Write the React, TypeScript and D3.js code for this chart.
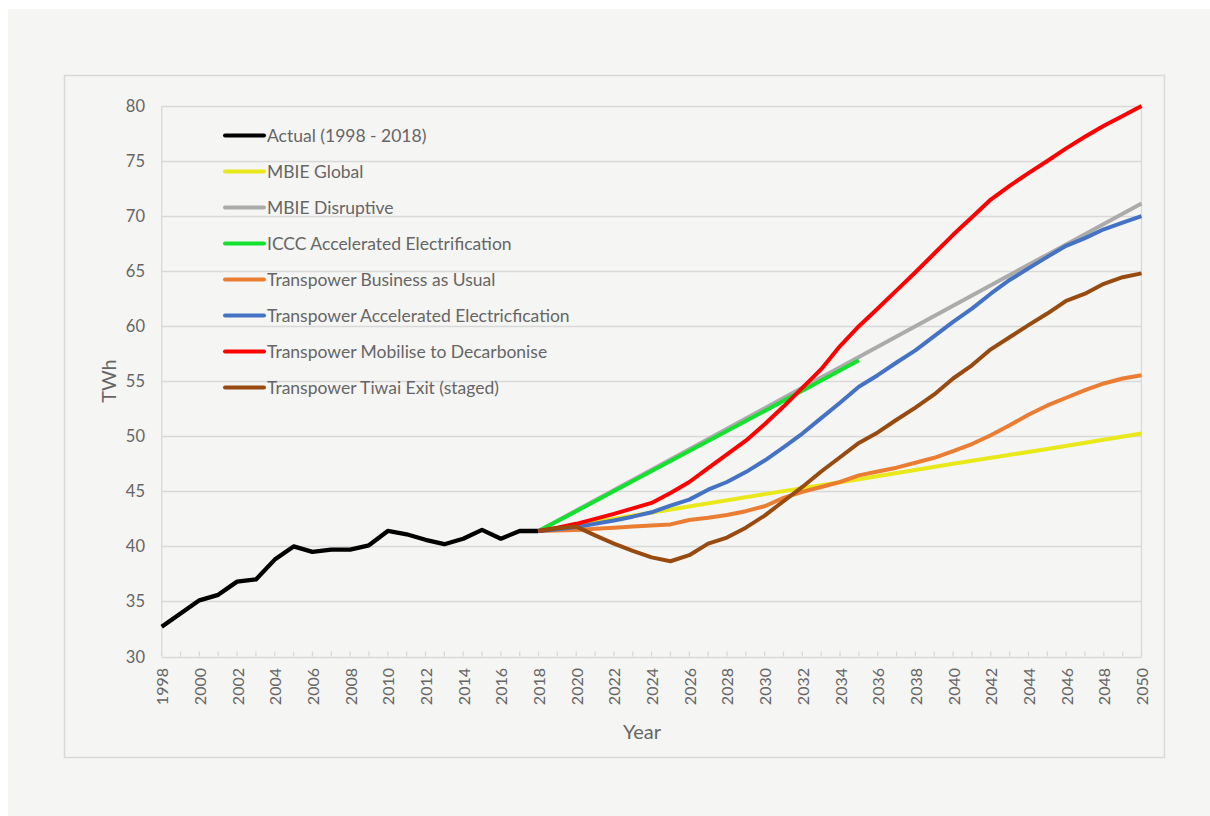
import React from "react";
import * as d3 from "d3";

const actualYears = [1998,1999,2000,2001,2002,2003,2004,2005,2006,2007,2008,2009,2010,2011,2012,2013,2014,2015,2016,2017,2018];
const actualValues = [32.7,33.9,35.1,35.6,36.8,37.0,38.8,40.0,39.5,39.7,39.7,40.1,41.4,41.1,40.6,40.2,40.7,41.5,40.7,41.4,41.4];

const projYears = [2018,2019,2020,2021,2022,2023,2024,2025,2026,2027,2028,2029,2030,2031,2032,2033,2034,2035,2036,2037,2038,2039,2040,2041,2042,2043,2044,2045,2046,2047,2048,2049,2050];

const mbieYears = [2018,2020,2025,2030,2035,2040,2045,2050];
const mbieGlobal = [41.4,41.95,43.35,44.75,46.1,47.5,48.85,50.25];
const mbieDisruptive = [41.4,43.25,47.9,52.55,57.2,61.85,66.5,71.15];

const icccYears = [2018,2020,2025,2030,2035];
const icccValues = [41.4,43.2,47.75,52.3,56.9];

const tpBAU = [41.4,41.45,41.5,41.6,41.7,41.8,41.9,42.0,42.4,42.6,42.85,43.2,43.65,44.4,44.95,45.4,45.85,46.45,46.8,47.15,47.6,48.05,48.65,49.3,50.1,51.0,51.95,52.8,53.5,54.2,54.8,55.25,55.55];
const tpAccel = [41.4,41.55,41.75,42.05,42.35,42.7,43.1,43.7,44.25,45.15,45.85,46.75,47.8,49.0,50.25,51.65,53.05,54.5,55.55,56.7,57.8,59.1,60.4,61.6,62.95,64.2,65.25,66.3,67.3,68.0,68.8,69.4,70.0];
const tpMobilise = [41.4,41.7,42.05,42.5,42.95,43.45,43.95,44.85,45.85,47.1,48.35,49.6,51.1,52.7,54.4,56.1,58.2,60.0,61.6,63.25,64.9,66.6,68.3,69.9,71.5,72.75,73.9,75.0,76.15,77.2,78.2,79.1,80.0];
const tpTiwai = [41.4,41.65,41.8,41.0,40.25,39.6,39.0,38.65,39.2,40.25,40.8,41.7,42.8,44.1,45.4,46.8,48.1,49.4,50.35,51.5,52.6,53.8,55.25,56.45,57.9,59.0,60.1,61.15,62.3,62.95,63.85,64.45,64.8];

const yTicks = [30,35,40,45,50,55,60,65,70,75,80];
const xLabelYears = d3.range(1998, 2051, 2);
const xTickYears = d3.range(1998, 2051, 1);

const seriesNames = [
  "Actual (1998 - 2018)",
  "MBIE Global",
  "MBIE Disruptive",
  "ICCC Accelerated Electrification",
  "Transpower Business as Usual",
  "Transpower Accelerated Electricfication",
  "Transpower Mobilise to Decarbonise",
  "Transpower Tiwai Exit (staged)",
];
const seriesColors = ["#000000","#E8E81A","#ABABAB","#12E22E","#EB7D33","#4472C4","#FF0000","#974B10"];

const FONT = "Lato, 'Open Sans', sans-serif";
const TEXT = "#666666";
const GRID = "#d9d9d9";

export default function App() {
  const x = d3.scaleLinear().domain([1998, 2050]).range([161.7, 1141.5]);
  const y = d3.scaleLinear().domain([30, 80]).range([656.5, 106]);
  const line = d3.line<[number, number]>().x(d => x(d[0])).y(d => y(d[1]));

  const zip = (xs: number[], vs: number[]) => xs.map((xx, i) => [xx, vs[i]] as [number, number]);
  const series = [
    zip(actualYears, actualValues),
    zip(mbieYears, mbieGlobal),
    zip(mbieYears, mbieDisruptive),
    zip(icccYears, icccValues),
    zip(projYears, tpBAU),
    zip(projYears, tpAccel),
    zip(projYears, tpMobilise),
    zip(projYears, tpTiwai),
  ];

  const legendX0 = 225, legendX1 = 264, legendY0 = 135.5, legendDy = 36;

  return (
    <svg width={1210} height={816} style={{ position: "absolute", left: 0, top: 0 }}>
      <rect x={8} y={9} width={1202} height={807} fill="#f5f5f3" />
      <rect x={64.5} y={75.5} width={1100} height={682} fill="none" stroke={GRID} strokeWidth={1.5} />
      {yTicks.map(t => (
        <line key={"g" + t} x1={x(1998)} x2={x(2050)} y1={Math.round(y(t)) + 0.5} y2={Math.round(y(t)) + 0.5} stroke={GRID} strokeWidth={1.3} />
      ))}
      <line x1={x(1998)} x2={x(1998)} y1={y(80)} y2={y(30)} stroke={GRID} strokeWidth={1.3} />
      <line x1={x(2050)} x2={x(2050)} y1={y(80)} y2={y(30)} stroke={GRID} strokeWidth={1.3} />
      {xTickYears.map(t => (
        <line key={"t" + t} x1={x(t)} x2={x(t)} y1={y(30) - 5} y2={y(30)} stroke={GRID} strokeWidth={1.3} />
      ))}
      {yTicks.map(t => (
        <text key={"yl" + t} x={145} y={y(t)} textAnchor="end" dominantBaseline="central" fontFamily={FONT} fontSize={16.5} fill={TEXT}>{t}</text>
      ))}
      {xLabelYears.map(t => (
        <text key={"xl" + t} transform={`translate(${x(t)},668) rotate(-90)`} textAnchor="end" dominantBaseline="central" fontFamily={FONT} fontSize={16} fill={TEXT}>{t}</text>
      ))}
      <text transform="translate(108,381) rotate(-90)" textAnchor="middle" dominantBaseline="central" fontFamily={FONT} fontSize={20} fill={TEXT}>TWh</text>
      <text x={642} y={731} textAnchor="middle" dominantBaseline="central" fontFamily={FONT} fontSize={20} fill={TEXT}>Year</text>
      {series.map((s, i) => (
        <path key={"s" + i} d={line(s) || ""} fill="none" stroke={seriesColors[i]} strokeWidth={i === 0 ? 4.3 : 4} strokeLinejoin="round" />
      ))}
      {seriesNames.map((n, i) => (
        <g key={"lg" + i}>
          <line x1={legendX0} x2={legendX1} y1={legendY0 + i * legendDy} y2={legendY0 + i * legendDy} stroke={seriesColors[i]} strokeWidth={4} strokeLinecap="round" />
          <text x={legendX1 + 3} y={legendY0 + i * legendDy} dominantBaseline="central" fontFamily={FONT} fontSize={17.5} fill={TEXT}>{n}</text>
        </g>
      ))}
    </svg>
  );
}
